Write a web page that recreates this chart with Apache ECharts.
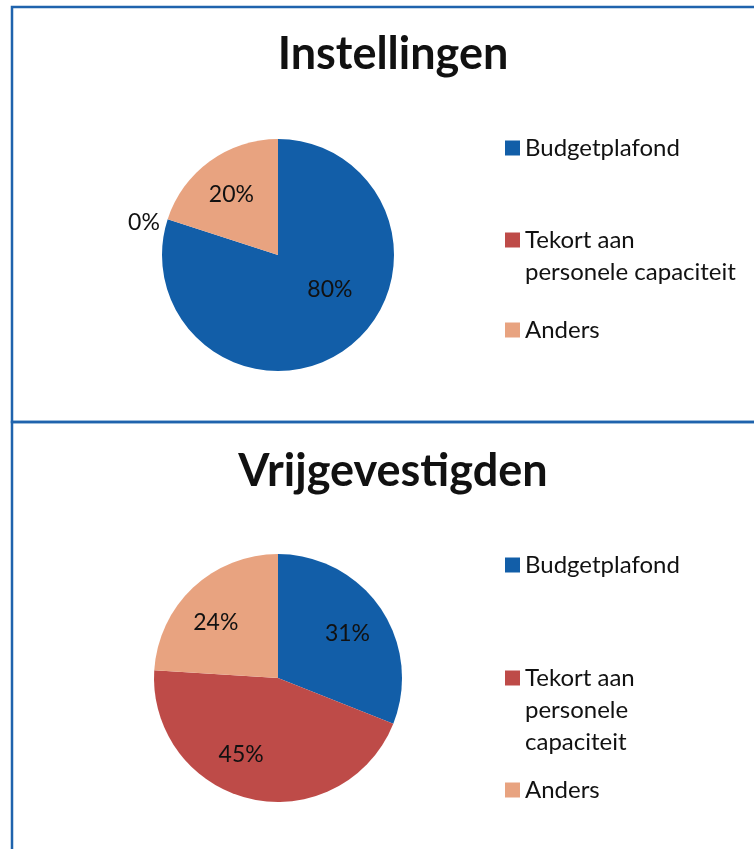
<!DOCTYPE html>
<html>
<head>
<meta charset="utf-8">
<script src="https://cdn.jsdelivr.net/npm/echarts@6/dist/echarts.min.js"></script>
<style>
  html, body { margin: 0; padding: 0; background: #fff; }
  #main { width: 754px; height: 849px; }
</style>
</head>
<body>
<div id="main"></div>
<script>
// data
var categories = ['Budgetplafond', 'Tekort aan personele capaciteit', 'Anders'];
var instellingenValues = [80, 0, 20];
var vrijgevestigdenValues = [31, 45, 24];
var titles = ['Instellingen', 'Vrijgevestigden'];

var colors = ['#125ea8', '#be4b48', '#e8a380'];
var borderColor = '#1f63ad';
var font = 'Lato, "Open Sans", sans-serif';

var myChart = echarts.init(document.getElementById('main'));

function toData(values) {
    return categories.map(function (name, i) {
        var item = { name: name, value: values[i] };
        // Excel zet het 0%-label buiten de taart
        if (values[i] === 0) {
            item.label = { position: 'outside', distanceToLabelLine: 4 };
            item.labelLine = { show: false, length: 4, length2: 0 };
        }
        return item;
    });
}

// labels iets naar buiten schuiven zoals in Excel (bestFit)
function labelPush(cx, cy, scale, nudge) {
    return function (params) {
        var r = params.labelRect;
        var lx = r.x + r.width / 2, ly = r.y + r.height / 2;
        var k = scale[params.dataIndex] - 1;
        var n = nudge[params.dataIndex] || [0, 0];
        return { dx: (lx - cx) * k + n[0], dy: (ly - cy) * k + n[1] };
    };
}

function pie(center, radius, values, scale, nudge) {
    return {
        type: 'pie',
        center: center,
        radius: radius,
        startAngle: 90,
        clockwise: true,
        avoidLabelOverlap: false,
        animation: false,
        data: toData(values),
        label: {
            position: 'inside',
            formatter: '{c}%',
            color: '#111',
            fontSize: 23,
            fontFamily: font
        },
        labelLine: { show: false },
        labelLayout: labelPush(center[0], center[1], scale, nudge),
        itemStyle: { borderWidth: 0 },
        emphasis: { disabled: true }
    };
}

// meerregelige legenda: lege regels ervoor zodat het blokje bij de eerste regel staat
function legendItem(name, top, lines) {
    var label = name;
    if (lines) {
        var pre = [];
        for (var i = 1; i < lines.length; i++) pre.push(' ');
        label = pre.concat(lines).join('\n');
    }
    return {
        data: [name],
        left: 505,
        top: top,
        padding: 0,
        icon: 'rect',
        itemWidth: 15,
        itemHeight: 15,
        itemGap: 0,
        formatter: function () { return label; },
        textStyle: {
            fontSize: 24,
            fontFamily: font,
            color: '#111',
            lineHeight: 32
        },
        selectedMode: false
    };
}

var option = {
    backgroundColor: '#fff',
    color: colors,
    title: [
        { text: titles[0], left: 388, top: 27, textAlign: 'center',
          textStyle: { fontSize: 45, fontWeight: 'bold', fontFamily: font, color: '#111' } },
        { text: titles[1], left: 388, top: 444, textAlign: 'center',
          textStyle: { fontSize: 45, fontWeight: 'bold', fontFamily: font, color: '#111' } }
    ],
    legend: [
        legendItem(categories[0], 132),
        legendItem(categories[1], 192, ['Tekort aan', 'personele capaciteit']),
        legendItem(categories[2], 314),
        legendItem(categories[0], 549),
        legendItem(categories[1], 598, ['Tekort aan', 'personele', 'capaciteit']),
        legendItem(categories[2], 774)
    ],
    graphic: [
        { type: 'rect', shape: { x: 12, y: 7, width: 760, height: 415 },
          style: { fill: null, stroke: borderColor, lineWidth: 2.5 }, silent: true },
        { type: 'rect', shape: { x: 12, y: 422, width: 760, height: 440 },
          style: { fill: null, stroke: borderColor, lineWidth: 2.5 }, silent: true }
    ],
    series: [
        pie([278, 255], 116, instellingenValues, [1.0, 1, 1.3], [[16, -15], [0, 5], [0, 4]]),
        pie([278, 678], 124, vrijgevestigdenValues, [1.33, 1.33, 1.33], [[-2, 4], [-18, -8], [-3, 8]])
    ]
};

myChart.setOption(option);
</script>
</body>
</html>
